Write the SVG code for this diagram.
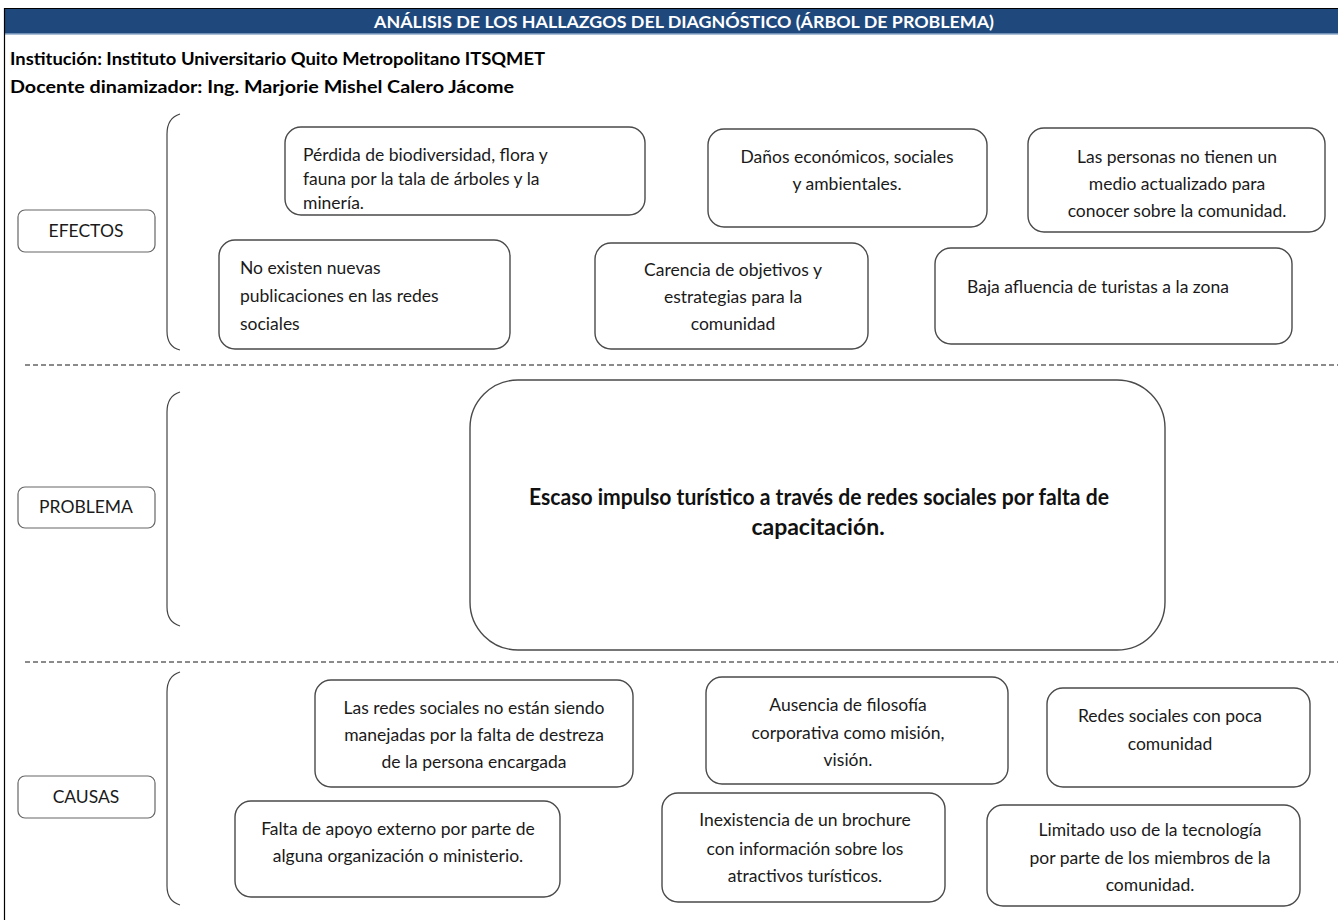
<svg xmlns="http://www.w3.org/2000/svg" width="1338" height="920" viewBox="0 0 1338 920">
<style>
.t{font-family:Lato,"Liberation Sans",sans-serif;font-size:17.5px;fill:#1a1a1a}
.c{text-anchor:middle}
.pb{font-family:Lato,"Liberation Sans",sans-serif;font-size:23px;font-weight:bold;fill:#111;text-anchor:middle}
.box{fill:#fff;stroke:#4a4a4a;stroke-width:1.4}
.lab{fill:#fff;stroke:#666;stroke-width:1.2}
.br{fill:none;stroke:#444;stroke-width:1.2}
.dash{stroke:#666;stroke-width:1.5;stroke-dasharray:5,3}
.hd{font-family:Lato,"Liberation Sans",sans-serif;font-weight:bold}
</style>
<rect width="1338" height="920" fill="#fff"/>
<g id="header">
<rect x="4" y="8" width="1334" height="26" fill="#1f497d"/>
<line x1="4" y1="8.5" x2="1338" y2="8.5" stroke="#000" stroke-width="1"/>
<line x1="4" y1="34" x2="1338" y2="34" stroke="#8ea9c9" stroke-width="1.5"/>
<text class="hd" x="684" y="28" font-size="17" fill="#fff" text-anchor="middle" textLength="620" lengthAdjust="spacingAndGlyphs">ANÁLISIS DE LOS HALLAZGOS DEL DIAGNÓSTICO (ÁRBOL DE PROBLEMA)</text>
<text class="hd" x="10" y="65" font-size="16.5" fill="#000" textLength="535" lengthAdjust="spacingAndGlyphs">Institución: Instituto Universitario Quito Metropolitano ITSQMET</text>
<text class="hd" x="10" y="93" font-size="16.5" fill="#000" textLength="504" lengthAdjust="spacingAndGlyphs">Docente dinamizador: Ing. Marjorie Mishel Calero Jácome</text>
</g>
<line x1="4.5" y1="8" x2="4.5" y2="920" stroke="#000" stroke-width="1.2"/>
<g id="connectors">
<line class="dash" x1="25" y1="365" x2="1338" y2="365"/>
<line class="dash" x1="25" y1="662" x2="1338" y2="662"/>
<path class="br" d="M180,114 Q167,118 167,134 L167,331 Q167,347 180,350"/>
<path class="br" d="M180,392 Q167,396 167,412 L167,607 Q167,622 180,626"/>
<path class="br" d="M180,672 Q167,676 167,692 L167,886 Q167,901 180,905"/>
</g>
<g id="lbl-efectos"><rect class="lab" x="18" y="210" width="137" height="42" rx="7"/><text class="t c" x="86" y="237">EFECTOS</text></g>
<g id="lbl-problema"><rect class="lab" x="18" y="487" width="137" height="41" rx="7"/><text class="t c" x="86" y="513">PROBLEMA</text></g>
<g id="lbl-causas"><rect class="lab" x="18" y="776" width="137" height="42" rx="7"/><text class="t c" x="86" y="803">CAUSAS</text></g>

<g id="e1"><rect class="box" x="285" y="127" width="360" height="88" rx="16"/>
<text class="t" x="303"><tspan x="303" y="161">Pérdida de biodiversidad, flora y</tspan><tspan x="303" y="185">fauna por la tala de árboles y la</tspan><tspan x="303" y="209">minería.</tspan></text></g>
<g id="e2"><rect class="box" x="708" y="129" width="279" height="98" rx="16"/>
<text class="t c"><tspan x="847" y="163">Daños económicos, sociales</tspan><tspan x="847" y="190">y ambientales.</tspan></text></g>
<g id="e3"><rect class="box" x="1028" y="128" width="297" height="104" rx="16"/>
<text class="t c"><tspan x="1177" y="163">Las personas no tienen un</tspan><tspan x="1177" y="190">medio actualizado para</tspan><tspan x="1177" y="217">conocer sobre la comunidad.</tspan></text></g>
<g id="e4"><rect class="box" x="219" y="240" width="291" height="109" rx="16"/>
<text class="t"><tspan x="240" y="274">No existen nuevas</tspan><tspan x="240" y="302">publicaciones en las redes</tspan><tspan x="240" y="330">sociales</tspan></text></g>
<g id="e5"><rect class="box" x="595" y="243" width="273" height="106" rx="16"/>
<text class="t c"><tspan x="733" y="276">Carencia de objetivos y</tspan><tspan x="733" y="303">estrategias para la</tspan><tspan x="733" y="330">comunidad</tspan></text></g>
<g id="e6"><rect class="box" x="935" y="248" width="357" height="96" rx="16"/>
<text class="t c" x="1098" y="293">Baja afluencia de turistas a la zona</text></g>

<g id="problem"><rect class="box" x="470" y="380" width="695" height="270" rx="48"/>
<text class="pb"><tspan x="819" y="505" textLength="580" lengthAdjust="spacingAndGlyphs">Escaso impulso turístico a través de redes sociales por falta de</tspan><tspan x="818" y="535">capacitación.</tspan></text></g>

<g id="c1"><rect class="box" x="315" y="680" width="318" height="107" rx="16"/>
<text class="t c"><tspan x="474" y="714">Las redes sociales no están siendo</tspan><tspan x="474" y="741">manejadas por la falta de destreza</tspan><tspan x="474" y="768">de la persona encargada</tspan></text></g>
<g id="c2"><rect class="box" x="706" y="677" width="302" height="107" rx="16"/>
<text class="t c"><tspan x="848" y="711">Ausencia de filosofía</tspan><tspan x="848" y="739">corporativa como misión,</tspan><tspan x="848" y="766">visión.</tspan></text></g>
<g id="c3"><rect class="box" x="1047" y="688" width="263" height="99" rx="16"/>
<text class="t c"><tspan x="1170" y="722">Redes sociales con poca</tspan><tspan x="1170" y="750">comunidad</tspan></text></g>
<g id="c4"><rect class="box" x="235" y="801" width="325" height="96" rx="16"/>
<text class="t c"><tspan x="398" y="835">Falta de apoyo externo por parte de</tspan><tspan x="398" y="862">alguna organización o ministerio.</tspan></text></g>
<g id="c5"><rect class="box" x="662" y="793" width="283" height="109" rx="16"/>
<text class="t c"><tspan x="805" y="826">Inexistencia de un brochure</tspan><tspan x="805" y="855">con información sobre los</tspan><tspan x="805" y="882">atractivos turísticos.</tspan></text></g>
<g id="c6"><rect class="box" x="987" y="805" width="313" height="101" rx="16"/>
<text class="t c"><tspan x="1150" y="836">Limitado uso de la tecnología</tspan><tspan x="1150" y="864">por parte de los miembros de la</tspan><tspan x="1150" y="891">comunidad.</tspan></text></g>
</svg>
